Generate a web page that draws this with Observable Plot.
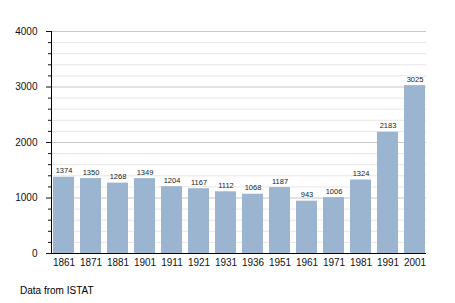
<!DOCTYPE html>
<html>
<head>
<meta charset="utf-8">
<script src="https://cdn.jsdelivr.net/npm/d3@7"></script>
<script src="https://cdn.jsdelivr.net/npm/@observablehq/plot@0.6"></script>
<style>
  body { margin: 0; background: #fff; }
  #wrap { position: relative; width: 455px; height: 303px; }
  #caption { position: absolute; left: 20px; top: 285px; font: 10px "Liberation Sans", Arial, sans-serif; color: #000; line-height: 12px; }
</style>
</head>
<body>
<div id="wrap">
  <div id="chart"></div>
  <div id="caption">Data from ISTAT</div>
</div>
<script>
const years = ["1861","1871","1881","1901","1911","1921","1931","1936","1951","1961","1971","1981","1991","2001"];
const population = [1374,1350,1268,1349,1204,1167,1112,1068,1187,943,1006,1324,2183,3025];
const majorTicks = [0,1000,2000,3000,4000];
const minorTicks = [200,400,600,800,1200,1400,1600,1800,2200,2400,2600,2800,3200,3400,3600,3800];

const data = years.map((y, i) => ({year: y, pop: population[i]}));

const chart = Plot.plot({
  width: 455,
  height: 275,
  marginTop: 31,
  marginBottom: 22,
  marginLeft: 51,
  marginRight: 29,
  style: {fontFamily: '"Liberation Sans", Arial, sans-serif', fontSize: "10px", color: "#111", background: "transparent"},
  x: {type: "band", domain: years, paddingInner: 0.24, paddingOuter: 0, label: null},
  y: {domain: [0, 4000], label: null},
  marks: [
    Plot.ruleY(minorTicks, {stroke: "#e6e6e6", strokeOpacity: 1}),
    Plot.ruleY(majorTicks, {stroke: "#c8c8c8", strokeOpacity: 1}),
    Plot.barY(data, {x: "year", y: "pop", fill: "#9bb4cf"}),
    Plot.text(data, {x: "year", y: "pop", text: d => String(d.pop), dy: -4, lineAnchor: "bottom", fontSize: 7.5, fill: "#222"}),
    Plot.axisY({ticks: majorTicks, tickSize: 5, tickPadding: 9, label: null, tickFormat: d => String(d)}),
    Plot.axisY({ticks: minorTicks, tickSize: 3, label: null, tickFormat: () => ""}),
    Plot.axisX({tickSize: 0, tickPadding: 5, label: null}),
    Plot.frame({anchor: "left", stroke: "#000"}),
    Plot.ruleY([0], {stroke: "#000"})
  ]
});
document.getElementById("chart").appendChild(chart);
</script>
</body>
</html>
